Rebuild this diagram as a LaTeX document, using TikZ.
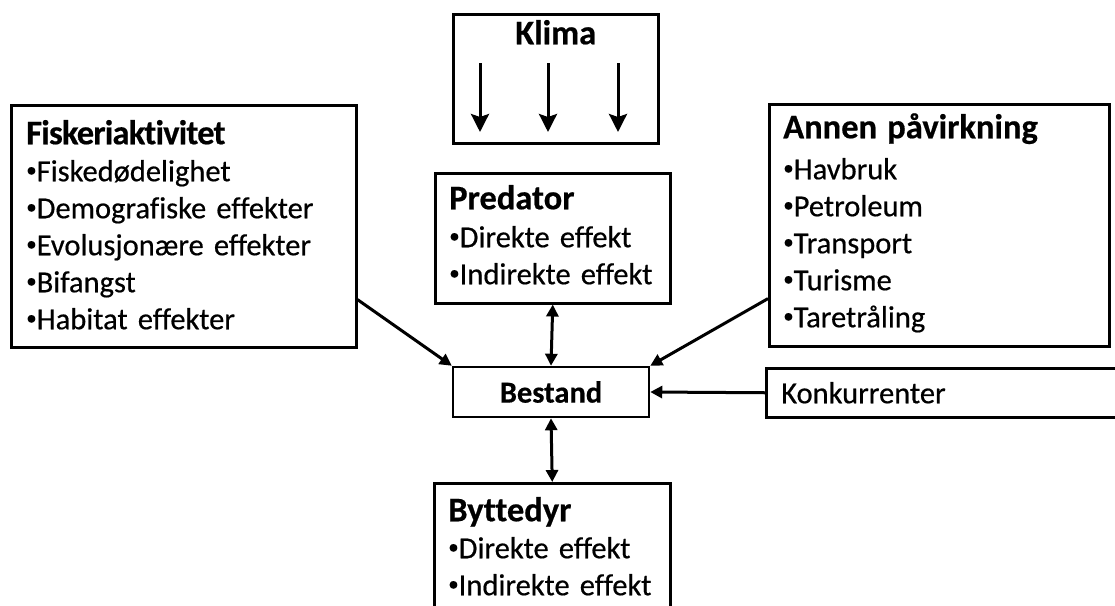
\documentclass[tikz,border=0pt]{standalone}
\usepackage{fontspec}
\setmainfont{Carlito}[Ligatures={NoCommon}, WordSpace={0.6}, UprightFeatures={FakeBold=0.5}, BoldFeatures={FakeBold=0.5}]
\usetikzlibrary{arrows.meta,calc}

\newcommand{\overskrift}[1]{{\fontsize{34.5}{37}\selectfont\bfseries #1}}
\newcommand{\punkt}{\raisebox{4.5pt}{\fontsize{21}{21}\selectfont •}}

\begin{document}
\begin{tikzpicture}[x=1pt,y=-1pt,
	boks/.style={draw, line width=2.5pt, anchor=north west, inner ysep=0pt, inner xsep=14pt, align=left, font=\fontsize{30.5}{37}\selectfont},
	pil/.style={line width=3pt, -{Triangle[length=12pt,width=12pt]}},
	dobbelpil/.style={line width=3pt, {Triangle[length=12pt,width=12pt]}-{Triangle[length=12pt,width=12pt]}},
	klimapil/.style={line width=3pt, -{Stealth[length=18pt,width=18pt,inset=3pt]}}]
	\useasboundingbox (0,0) rectangle (1115,605);
	% Klima
		\node[boks, inner xsep=0pt, align=center, text width=205pt, text height=30pt, text depth=99pt] (klima) at (452,13) {\overskrift{Klima}};
		\foreach \dx in {28,96,166}
			\draw[klimapil] ($(klima.north west)+(\dx,50)$) -- ++(0,69);
	% Fiskeriaktivitet
		\node[boks, inner xsep=15pt, text width=315pt, text height=39pt, text depth=203pt] (fisk) at (10,104)
			{\overskrift{\addfontfeature{LetterSpace=-2.3}Fiskeriaktivitet}\\ \punkt Fiskedødelighet\\ \punkt Demografiske effekter\\ \punkt Evolusjonære effekter\\ \punkt Bifangst\\ \punkt Habitat effekter};
	% Annen påvirkning
		\node[boks, text width=312pt, text height=34pt, text depth=208pt] (annen) at (768,103)
			{\overskrift{Annen påvirkning}\\[4pt] \punkt Havbruk\\ \punkt Petroleum\\ \punkt Transport\\ \punkt Turisme\\ \punkt Taretråling};
	% Predator og byttedyr
		\node[boks, text width=207pt, text height=36pt, text depth=94pt] (predator) at (434,172)
			{\overskrift{Predator}\\[1pt] \punkt Direkte~effekt\\ \punkt Indirekte~effekt};
		\node[boks, text width=208pt, text height=38pt, text depth=150pt] (byttedyr) at (433,482)
			{\overskrift{Byttedyr}\\ \punkt Direkte~effekt\\ \punkt Indirekte~effekt};
	% Bestand og konkurrenter
		\node[draw, line width=2.5pt, minimum width=196pt, minimum height=50pt, font=\fontsize{30.5}{37}\selectfont\bfseries] (bestand) at (551,392) {Bestand};
		\node[boks, inner xsep=15pt, text width=400pt, text height=35pt, text depth=14pt] (konk) at (765,367) {Konkurrenter};
	% Piler
		\draw[pil] ($(fisk.south east)!0.2!(fisk.north east)$) -- (bestand.north west);
		\draw[pil] ($(annen.south west)!0.2!(annen.north west)$) -- (bestand.north east);
		\draw[pil] (konk.west) -- (bestand.east);
		\draw[dobbelpil] (predator.south) -- (bestand.north);
		\draw[dobbelpil] (bestand.south) -- (byttedyr.north);
\end{tikzpicture}
\end{document}
